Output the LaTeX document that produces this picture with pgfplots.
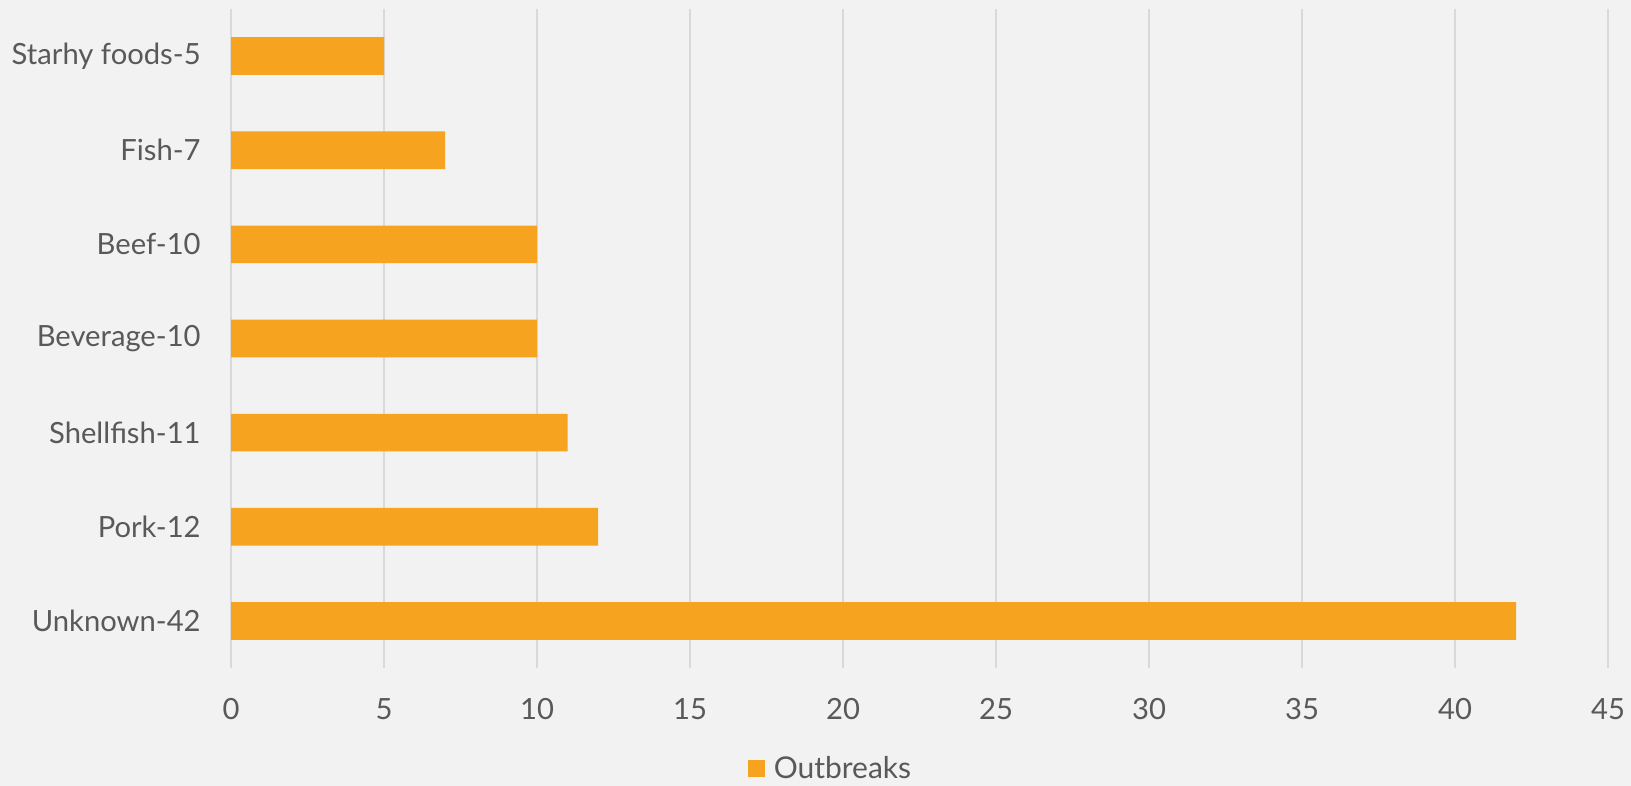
\documentclass[border=0pt]{standalone}
\usepackage{pgfplots}
\pgfplotsset{compat=1.18}
\usepackage{fontspec}
\setmainfont{Lato}
\definecolor{bg}{HTML}{F2F2F2}
\definecolor{barc}{HTML}{F6A31F}
\definecolor{gridc}{HTML}{D9D9D9}
\definecolor{txt}{HTML}{595959}
\begin{document}
\begin{tikzpicture}
\fill[bg] (0pt,0pt) rectangle (815.5pt,393pt);
\path[use as bounding box] (0pt,0pt) rectangle (815.5pt,393pt);
\begin{axis}[
 at={(115.5pt,59pt)}, anchor=south west,
 scale only axis, width=688.5pt, height=329.5pt,
 xmin=0, xmax=45, xtick distance=5,
 ymin=-0.5, ymax=6.5,
 ytick={0,...,6},
 yticklabels={Unknown-42,Pork-12,Shellfish-11,Beverage-10,Beef-10,Fish-7,Starhy foods-5},
 xbar, bar width=0.4,
 axis line style={draw=none},
 major tick length=0pt,
 xmajorgrids, grid style={gridc, line width=0.75pt},
 tick label style={font=\fontsize{14.6}{17}\selectfont, text=txt},
 /pgf/number format/assume math mode=true,
 xticklabel style={anchor=north, inner sep=0pt, yshift=-15pt},
 yticklabel style={anchor=east, inner sep=0pt, xshift=-15pt},
 legend style={at={(0.436,-0.153)}, anchor=center, draw=none, fill=none, font=\fontsize{15}{18}\selectfont, text=txt},
 legend image code/.code={\fill[barc] (0pt,-4.3pt) rectangle (8.6pt,4.3pt);},
]
\addplot[fill=barc, draw=none] coordinates {(42,0) (12,1) (11,2) (10,3) (10,4) (7,5) (5,6)};
\legend{\hspace{2.5pt}Outbreaks}
\end{axis}
\end{tikzpicture}
\end{document}
